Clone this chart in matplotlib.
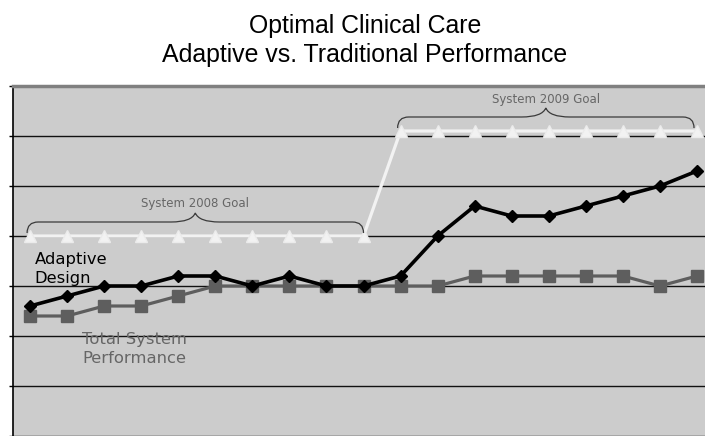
import numpy as np
import matplotlib
matplotlib.use('Agg')
import matplotlib.pyplot as plt
from matplotlib.path import Path
from matplotlib.patches import PathPatch

# values (19 periods, no category labels shown)
adaptive = [2.6, 2.8, 3.0, 3.0, 3.2, 3.2, 3.0, 3.2, 3.0, 3.0,
            3.2, 4.0, 4.6, 4.4, 4.4, 4.6, 4.8, 5.0, 5.3]
total_system = [2.4, 2.4, 2.6, 2.6, 2.8, 3.0, 3.0, 3.0, 3.0, 3.0,
                3.0, 3.0, 3.2, 3.2, 3.2, 3.2, 3.2, 3.0, 3.2]
goal = [4.0, 4.0, 4.0, 4.0, 4.0, 4.0, 4.0, 4.0, 4.0, 4.0,
        6.1, 6.1, 6.1, 6.1, 6.1, 6.1, 6.1, 6.1, 6.1]
goal_labels = ['System 2008 Goal', 'System 2009 Goal']
y_ticks = [0, 1, 2, 3, 4, 5, 6, 7]

x = np.arange(len(adaptive))

W, H = 705, 436
fig = plt.figure(figsize=(W / 100, H / 100), dpi=100)
ax_left, ax_w = 13, 704
ax = fig.add_axes([ax_left / W, 0, ax_w / W, 350 / H])
ax.set_facecolor('#cccccc')
ax.set_xlim(-0.46, 18.54)
ax.set_ylim(0, 7)

ax.set_yticks(y_ticks)
ax.set_yticklabels([])
ax.set_xticks([])
ax.tick_params(axis='y', direction='out', length=3, width=1, color='black')
ax.yaxis.grid(True, color='#111111', linewidth=1.0)
ax.set_axisbelow(True)
for s in ['bottom', 'right']:
    ax.spines[s].set_visible(False)
ax.spines['left'].set_color('black')
ax.spines['left'].set_linewidth(1.2)
ax.spines['top'].set_color('#808080')
ax.spines['top'].set_linewidth(2.5)

ax.plot(x, total_system, color='#5e5e5e', lw=2.3, marker='s', ms=8,
        markeredgecolor='#5e5e5e', zorder=3)
ax.plot(x, adaptive, color='black', lw=2.6, marker='D', ms=6.5,
        zorder=4)
ax.plot(x, goal, color='#f2f2f2', lw=2.3, marker='^', ms=8.5,
        markeredgecolor='#ebebeb', zorder=5)


def brace(ax, x0, x1, y):
    # curly brace above a goal segment
    ye, yf, yp = y + 0.06, y + 0.28, y + 0.46
    xm = (x0 + x1) / 2
    r, m = 0.3, 0.65
    verts = [(x0, ye), (x0, yf), (x0 + r, yf),
             (xm - m, yf),
             (xm - 0.1, yf), (xm, yp),
             (xm + 0.1, yf), (xm + m, yf),
             (x1 - r, yf),
             (x1, yf), (x1, ye)]
    codes = [Path.MOVETO, Path.CURVE3, Path.CURVE3,
             Path.LINETO,
             Path.CURVE3, Path.CURVE3,
             Path.CURVE3, Path.CURVE3,
             Path.LINETO,
             Path.CURVE3, Path.CURVE3]
    ax.add_patch(PathPatch(Path(verts, codes), fill=False,
                           edgecolor='#3a3a3a', lw=0.9, zorder=6))
    return xm, yp


goal_arr = np.array(goal)
for lab, level in zip(goal_labels, [goal[0], goal[-1]]):
    idx = x[goal_arr == level]
    xm, yp = brace(ax, idx[0] - 0.08, idx[-1] - 0.08 * (level != goal[0]), level)
    ax.text(xm, level + 0.57, lab, ha='center', va='baseline',
            fontsize=8.5, color='#666666', family='DejaVu Sans', zorder=7)

ax.text(0.13, 3.06, 'Adaptive\nDesign', ha='left', va='baseline',
        fontsize=11.8, color='black', family='DejaVu Sans',
        linespacing=1.3, zorder=7)
ax.text(1.40, 1.46, 'Total System\nPerformance', ha='left', va='baseline',
        fontsize=11.8, color='#666666', family='DejaVu Sans',
        linespacing=1.3, zorder=7)

cx = (ax_left + ax_w / 2) / W
fig.text(cx, 1 - 33 / H, 'Optimal Clinical Care', ha='center',
         va='baseline', fontsize=17.9, family='Liberation Sans')
fig.text(cx, 1 - 62 / H, 'Adaptive vs. Traditional Performance',
         ha='center', va='baseline', fontsize=17.9, family='Liberation Sans')

fig.savefig('out.png', dpi=100)
